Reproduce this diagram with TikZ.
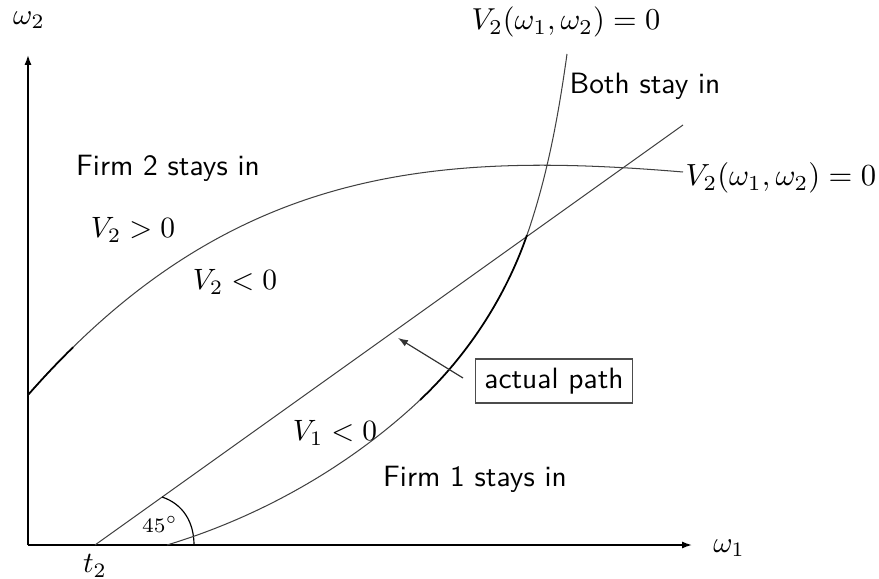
\documentclass[tikz,border=0pt]{standalone}
\usetikzlibrary{arrows.meta}
\begin{document}
\begin{tikzpicture}[x=0.34pt,y=-0.34pt,
  axis/.style={line width=0.5pt,-{Latex[length=3.4pt,width=2.4pt]}},
  curve/.style={line width=0.35pt,black!75},
  darkcurve/.style={line width=0.6pt,black},
  lbl/.style={font=\sffamily,inner sep=0pt},
  mlbl/.style={inner sep=0pt},
  pathbox/.style={draw=black!70,line width=0.5pt,font=\sffamily,inner sep=3pt}]
\useasboundingbox (0,0) rectangle (879,579);
% axes
\coordinate (O) at (28,545);
\coordinate (ytip) at (28,55);
\coordinate (xtip) at (692,545);
\draw[axis] (O) -- (ytip);
\draw[axis] (O) -- (xtip);
\node[mlbl] (w2) at (29,20) {$\omega_2$};
\node[mlbl] (w1) at (729,548) {$\omega_1$};
\node[mlbl] (t2) at (95,566) {$t_2$};
% 45 degree line
\coordinate (t2pt) at (95,545);
\coordinate (lineend) at (683,125);
\draw[curve] (t2pt) -- (lineend);
% angle arc
\coordinate (arcA) at (162,497);
\coordinate (arcB) at (194,545);
\draw[line width=0.4pt] (arcA) .. controls (183,504) and (194,522) .. (arcB);
\node[mlbl,font=\scriptsize] (deg) at (160,524) {$45^\circ$};
% V1 = 0 curve
\coordinate (k0) at (167,545);
\coordinate (k1) at (420,400);
\coordinate (k2) at (527,235);
\coordinate (k3) at (567,54);
\draw[curve] (k0) .. controls (260,517) and (349.4,466.4) .. (k1);
\draw[darkcurve] (k1) .. controls (467.8,355.1) and (505.5,297) .. (k2);
\draw[curve] (k2) .. controls (547.3,176.6) and (558.5,115.2) .. (k3);
% V2 = 0 curve
\coordinate (c2a) at (28,395);
\coordinate (c2m) at (73.1,347.2);
\coordinate (c2b) at (683,172);
\draw[curve] (c2a) .. controls (228,167) and (433,151) .. (c2b);
\draw[darkcurve] (c2a) .. controls (43,377.9) and (58,362) .. (c2m);
% labels
\node[mlbl,scale=1.03] (topl) at (566,22) {$V_2(\omega_1,\omega_2)=0$};
\node[mlbl,scale=1.04] (rightl) at (781,178) {$V_2(\omega_1,\omega_2)=0$};
\node[lbl] (both) at (645,86) {Both stay in};
\node[lbl] (firm2) at (168,168) {Firm 2 stays in};
\node[mlbl] (v2p) at (133,230) {$V_2>0$};
\node[mlbl] (v2n) at (235,282) {$V_2<0$};
\node[mlbl] (v1n) at (335,433) {$V_1<0$};
\node[lbl] (firm1) at (475,479) {Firm 1 stays in};
\node[pathbox] (ap) at (554,381) {actual path};
\coordinate (apstart) at (463,378);
\coordinate (aptip) at (398,338);
\draw[line width=0.4pt,black!80,-{Latex[length=3.4pt,width=2.4pt]}] (apstart) -- (aptip);
\end{tikzpicture}
\end{document}
